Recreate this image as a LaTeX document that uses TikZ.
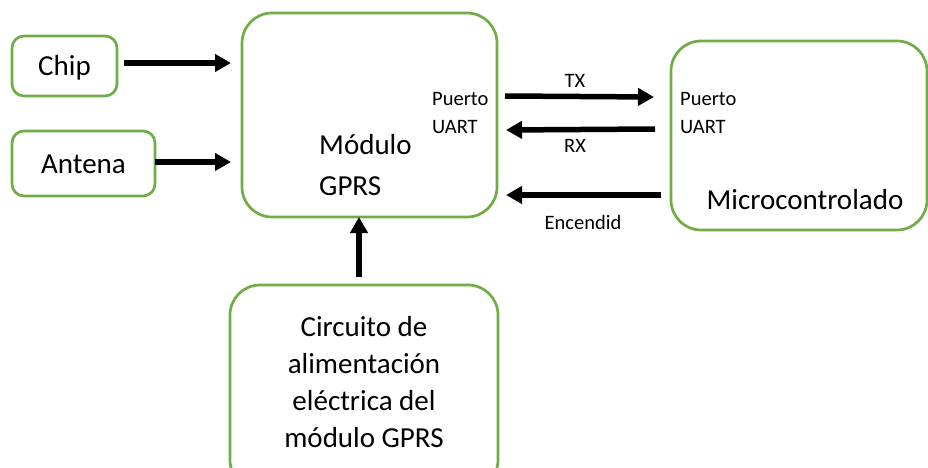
\documentclass[tikz,border=0pt]{standalone}
\usepackage{fontspec}
\setmainfont{Carlito}
\usetikzlibrary{arrows.meta}
\definecolor{boxgreen}{RGB}{112,173,71}
\tikzset{
  blk/.style={draw=boxgreen, line width=2.7pt, rounded corners=#1},
  blk/.default=12pt,
  bigarrow/.style={line width=5.5pt, -{Triangle[length=16pt,width=17pt]}},
  smalltxt/.style={font=\fontsize{20.5}{24}\selectfont, inner sep=0pt},
  bigtxt/.style={font=\fontsize{29}{37}\selectfont, inner sep=0pt, align=center},
}
\begin{document}
\begin{tikzpicture}[x=1pt,y=-1pt]
\useasboundingbox (0,0) rectangle (928,468);
% blocks
\draw[blk] (12,36) rectangle (117,96);
\node[bigtxt] (chip) at (64.5,68) {Chip};
\coordinate (chipE) at (124,63);
\draw[blk] (12,131) rectangle (155,196);
\node[bigtxt] (antena) at (83.5,164) {Antena};
\coordinate (antE) at (155,162);
\draw[blk=30pt] (242,13) rectangle (497,217);
\node[bigtxt, anchor=west, align=left, font=\fontsize{29}{41}\selectfont] (gprs) at (319,165) {Módulo\\GPRS};
\draw[blk=30pt] (671,41) rectangle (927,230);
\node[bigtxt] (micro) at (805,200) {Microcontrolado};
\draw[blk=30pt] (230,285) rectangle (498,490);
\node[bigtxt] (power) at (364,382) {Circuito de\\alimentación\\eléctrica del\\módulo GPRS};
% port labels
\node[smalltxt, anchor=west] (pg1) at (432,99) {Puerto};
\node[smalltxt, anchor=west] (pg2) at (432,127) {UART};
\node[smalltxt, anchor=west] (pm1) at (680,99) {Puerto};
\node[smalltxt, anchor=west] (pm2) at (680,127) {UART};
% connection endpoints
\coordinate (gIn1) at (231,63);
\coordinate (gIn2) at (231,162);
\coordinate (gBot) at (359,217);
\coordinate (pTop) at (359,277);
\coordinate (txS) at (505,96);
\coordinate (txE) at (654,97);
\coordinate (rxS) at (655,129);
\coordinate (rxE) at (506,130);
\coordinate (enS) at (661,195);
\coordinate (enE) at (506,195);
% arrows
\draw[bigarrow] (chipE) -- (gIn1);
\draw[bigarrow] (antE) -- (gIn2);
\draw[bigarrow] (pTop) -- (gBot);
\draw[bigarrow] (txS) -- (txE);
\draw[bigarrow] (rxS) -- (rxE);
\draw[bigarrow] (enS) -- (enE);
% signal labels
\node[smalltxt] (tx) at (575,81) {TX};
\node[smalltxt] (rx) at (575,146) {RX};
\node[smalltxt] (en) at (583,222) {Encendid};
\end{tikzpicture}
\end{document}
